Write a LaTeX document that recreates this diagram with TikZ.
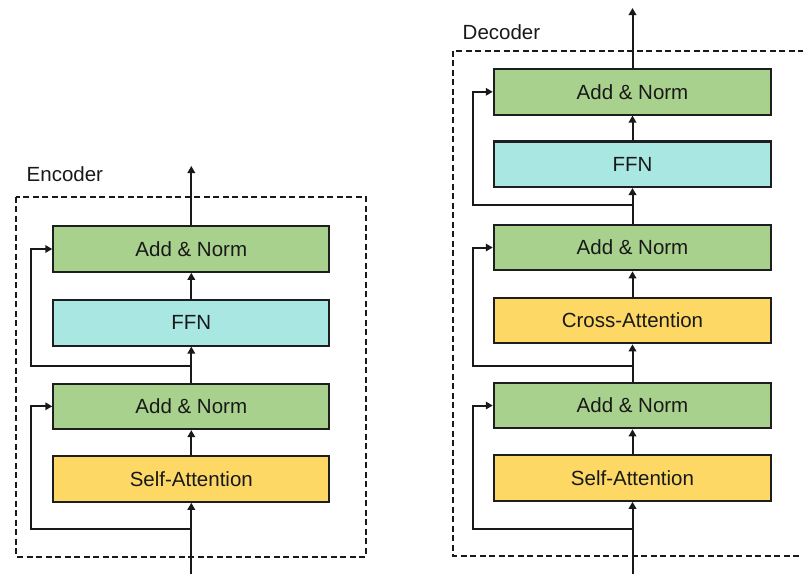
\documentclass[tikz,border=0pt]{standalone}
\usepackage{fontspec}
\setmainfont{Liberation Sans}
\usetikzlibrary{arrows.meta}
\definecolor{boxgreen}{HTML}{A9D18E}
\definecolor{boxcyan}{HTML}{A9E7E2}
\definecolor{boxyellow}{HTML}{FDD865}
\definecolor{edgedark}{HTML}{1E1E1E}
\tikzset{
  blk/.style={draw=edgedark, line width=2.1pt, minimum height=45.5pt, inner sep=0pt,
    font=\fontsize{20.5}{24}\selectfont, text=black!90},
  encblk/.style={blk, minimum width=276pt},
  decblk/.style={blk, minimum width=277.4pt},
  anorm/.style={fill=boxgreen},
  ffnbox/.style={fill=boxcyan},
  attbox/.style={fill=boxyellow},
  conn/.style={line width=2pt, draw=black!90, -{Triangle[length=7pt,width=7.5pt]}},
  frame/.style={line width=1.8pt, draw=black!90, dash pattern=on 6pt off 3.5pt},
  lbl/.style={anchor=west, inner sep=0pt, font=\fontsize{20.5}{24}\selectfont, text=black!90}
}
\begin{document}
\begin{tikzpicture}[x=1pt, y=-1pt]
\clip (0,0) rectangle (803,574);
% ---------------- Encoder ----------------
\draw[frame] (16,196.7) rectangle (365.7,556.7);
\node[lbl] (enclbl) at (26.5,174) {Encoder};
\node[encblk, attbox] (esa) at (191.3,479) {Self-Attention};
\node[encblk, anorm] (ean1) at (191.3,406.3) {Add \& Norm};
\node[encblk, ffnbox] (effn) at (191.3,322.8) {FFN};
\node[encblk, anorm] (ean2) at (191.3,249) {Add \& Norm};
\coordinate (ein) at (191.3,574);
\coordinate (eout) at (191.3,166);
\coordinate (er1) at (191.3,529);
\coordinate (er2) at (191.3,365.7);
\draw[conn] (ein) -- (esa.south);
\draw[conn] (er1) -- (31,529) |- (ean1.west);
\draw[conn] (esa.north) -- (ean1.south);
\draw[conn] (ean1.north) -- (effn.south);
\draw[conn] (er2) -- (31,365.7) |- (ean2.west);
\draw[conn] (effn.north) -- (ean2.south);
\draw[conn] (ean2.north) -- (eout);
% ---------------- Decoder ----------------
\draw[frame] (453.3,50.7) rectangle (812,556.3);
\node[lbl] (declbl) at (462.5,32) {Decoder};
\node[decblk, attbox] (dsa) at (632.5,478) {Self-Attention};
\node[decblk, anorm] (dan1) at (632.5,405.5) {Add \& Norm};
\node[decblk, attbox] (dca) at (632.5,320.5) {Cross-Attention};
\node[decblk, anorm] (dan2) at (632.5,247.5) {Add \& Norm};
\node[decblk, ffnbox] (dffn) at (632.5,164.2) {FFN};
\node[decblk, anorm] (dan3) at (632.5,91.8) {Add \& Norm};
\coordinate (din) at (632.5,574);
\coordinate (dout) at (632.5,8);
\coordinate (dr1) at (632.5,529);
\coordinate (dr2) at (632.5,365.7);
\coordinate (dr3) at (632.5,205);
\draw[conn] (din) -- (dsa.south);
\draw[conn] (dr1) -- (473.3,529) |- (dan1.west);
\draw[conn] (dsa.north) -- (dan1.south);
\draw[conn] (dan1.north) -- (dca.south);
\draw[conn] (dr2) -- (473.3,365.7) |- (dan2.west);
\draw[conn] (dca.north) -- (dan2.south);
\draw[conn] (dan2.north) -- (dffn.south);
\draw[conn] (dr3) -- (473.3,205) |- (dan3.west);
\draw[conn] (dffn.north) -- (dan3.south);
\draw[conn] (dan3.north) -- (dout);
\end{tikzpicture}
\end{document}
